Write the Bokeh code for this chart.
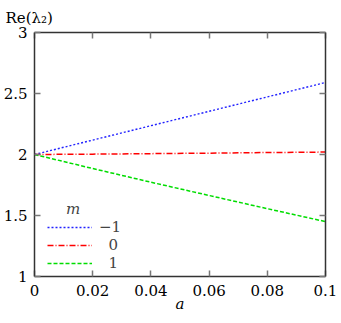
from bokeh.plotting import figure
from bokeh.models import Range1d, LinearAxis, Legend, LegendItem, FixedTicker
from bokeh.embed import file_html
from bokeh.resources import INLINE

# data
a_vals = [0.0, 0.02, 0.04, 0.06, 0.08, 0.1]
re_m_minus1 = [2.0, 2.118, 2.236, 2.354, 2.472, 2.59]
re_m_0 = [2.0, 2.003, 2.007, 2.011, 2.016, 2.02]
re_m_1 = [2.0, 1.885, 1.773, 1.664, 1.556, 1.45]
m_labels = ["\u22121", "\u20070", "\u20071"]
x_ticks = [0, 0.02, 0.04, 0.06, 0.08, 0.1]
x_tick_labels = ["0", "0.02", "0.04", "0.06", "0.08", "0.1"]
y_ticks = [1, 1.5, 2, 2.5, 3]
y_tick_labels = ["1", "1.5", "2", "2.5", "3"]

FONT = "DejaVu Serif"
FS = "15px"
AXC = "#333333"

p = figure(width=341, height=323, output_backend="svg", toolbar_location=None,
           x_range=Range1d(0, 0.1), y_range=Range1d(1, 3),
           min_border_left=34, min_border_right=16, min_border_top=32, min_border_bottom=47,
           x_axis_location=None, y_axis_location=None)
p.grid.visible = False
p.outline_line_color = None
p.background_fill_color = "white"
p.border_fill_color = "white"

p.title.text = "Re(\u03bb\u2082)"
p.title.align = "left"
p.title.offset = -29
p.title.text_font = FONT
p.title.text_font_size = FS
p.title.text_font_style = "normal"
p.title.text_color = "black"
p.title.standoff = 11

def style_axis(ax, ticks, labels, show_labels):
    ax.ticker = FixedTicker(ticks=ticks)
    ax.major_label_overrides = {t: l for t, l in zip(ticks, labels)}
    ax.minor_tick_line_color = None
    ax.major_tick_in = 6
    ax.major_tick_out = 0
    ax.major_tick_line_color = "#777777"
    ax.major_tick_line_width = 1.5
    ax.axis_line_color = AXC
    ax.axis_line_width = 1.5
    ax.major_label_text_font = FONT
    ax.major_label_text_color = "black"
    if show_labels:
        ax.major_label_text_font_size = FS
    else:
        ax.major_label_text_font_size = "0px"
        ax.major_label_standoff = 0

xb = LinearAxis()
style_axis(xb, x_ticks, x_tick_labels, True)
xb.major_label_standoff = 8
xb.axis_label = "a"
xb.axis_label_text_font = FONT
xb.axis_label_text_font_style = "italic"
xb.axis_label_text_font_size = FS
xb.axis_label_text_color = "black"
xb.axis_label_standoff = -4
p.add_layout(xb, "below")

yl = LinearAxis()
style_axis(yl, y_ticks, y_tick_labels, True)
yl.major_label_standoff = 7
p.add_layout(yl, "left")

xt = LinearAxis()
style_axis(xt, x_ticks, x_tick_labels, False)
p.add_layout(xt, "above")

yr = LinearAxis()
style_axis(yr, y_ticks, y_tick_labels, False)
p.add_layout(yr, "right")

r1 = p.line(a_vals, re_m_minus1, line_color="#2222ff", line_width=1.4, line_dash="2 2")
r2 = p.line(a_vals, re_m_0, line_color="#ff0000", line_width=1.5, line_dash="6 2 1 2")
r3 = p.line(a_vals, re_m_1, line_color="#00dd00", line_width=1.5, line_dash="4 2")

legend = Legend(items=[LegendItem(label=m_labels[0], renderers=[r1]),
                       LegendItem(label=m_labels[1], renderers=[r2]),
                       LegendItem(label=m_labels[2], renderers=[r3])],
                location=(13, 4), title="\u2007\u2007m",
                title_text_font=FONT, title_text_font_style="italic",
                title_text_font_size=FS, title_standoff=0,
                label_text_font=FONT, label_text_font_size=FS,
                glyph_width=45, glyph_height=14, label_height=14, label_standoff=7,
                spacing=-3, padding=2, margin=0,
                border_line_color=None, background_fill_alpha=0)
p.add_layout(legend, "center")

open("out.html", "w").write(file_html(p, INLINE))
